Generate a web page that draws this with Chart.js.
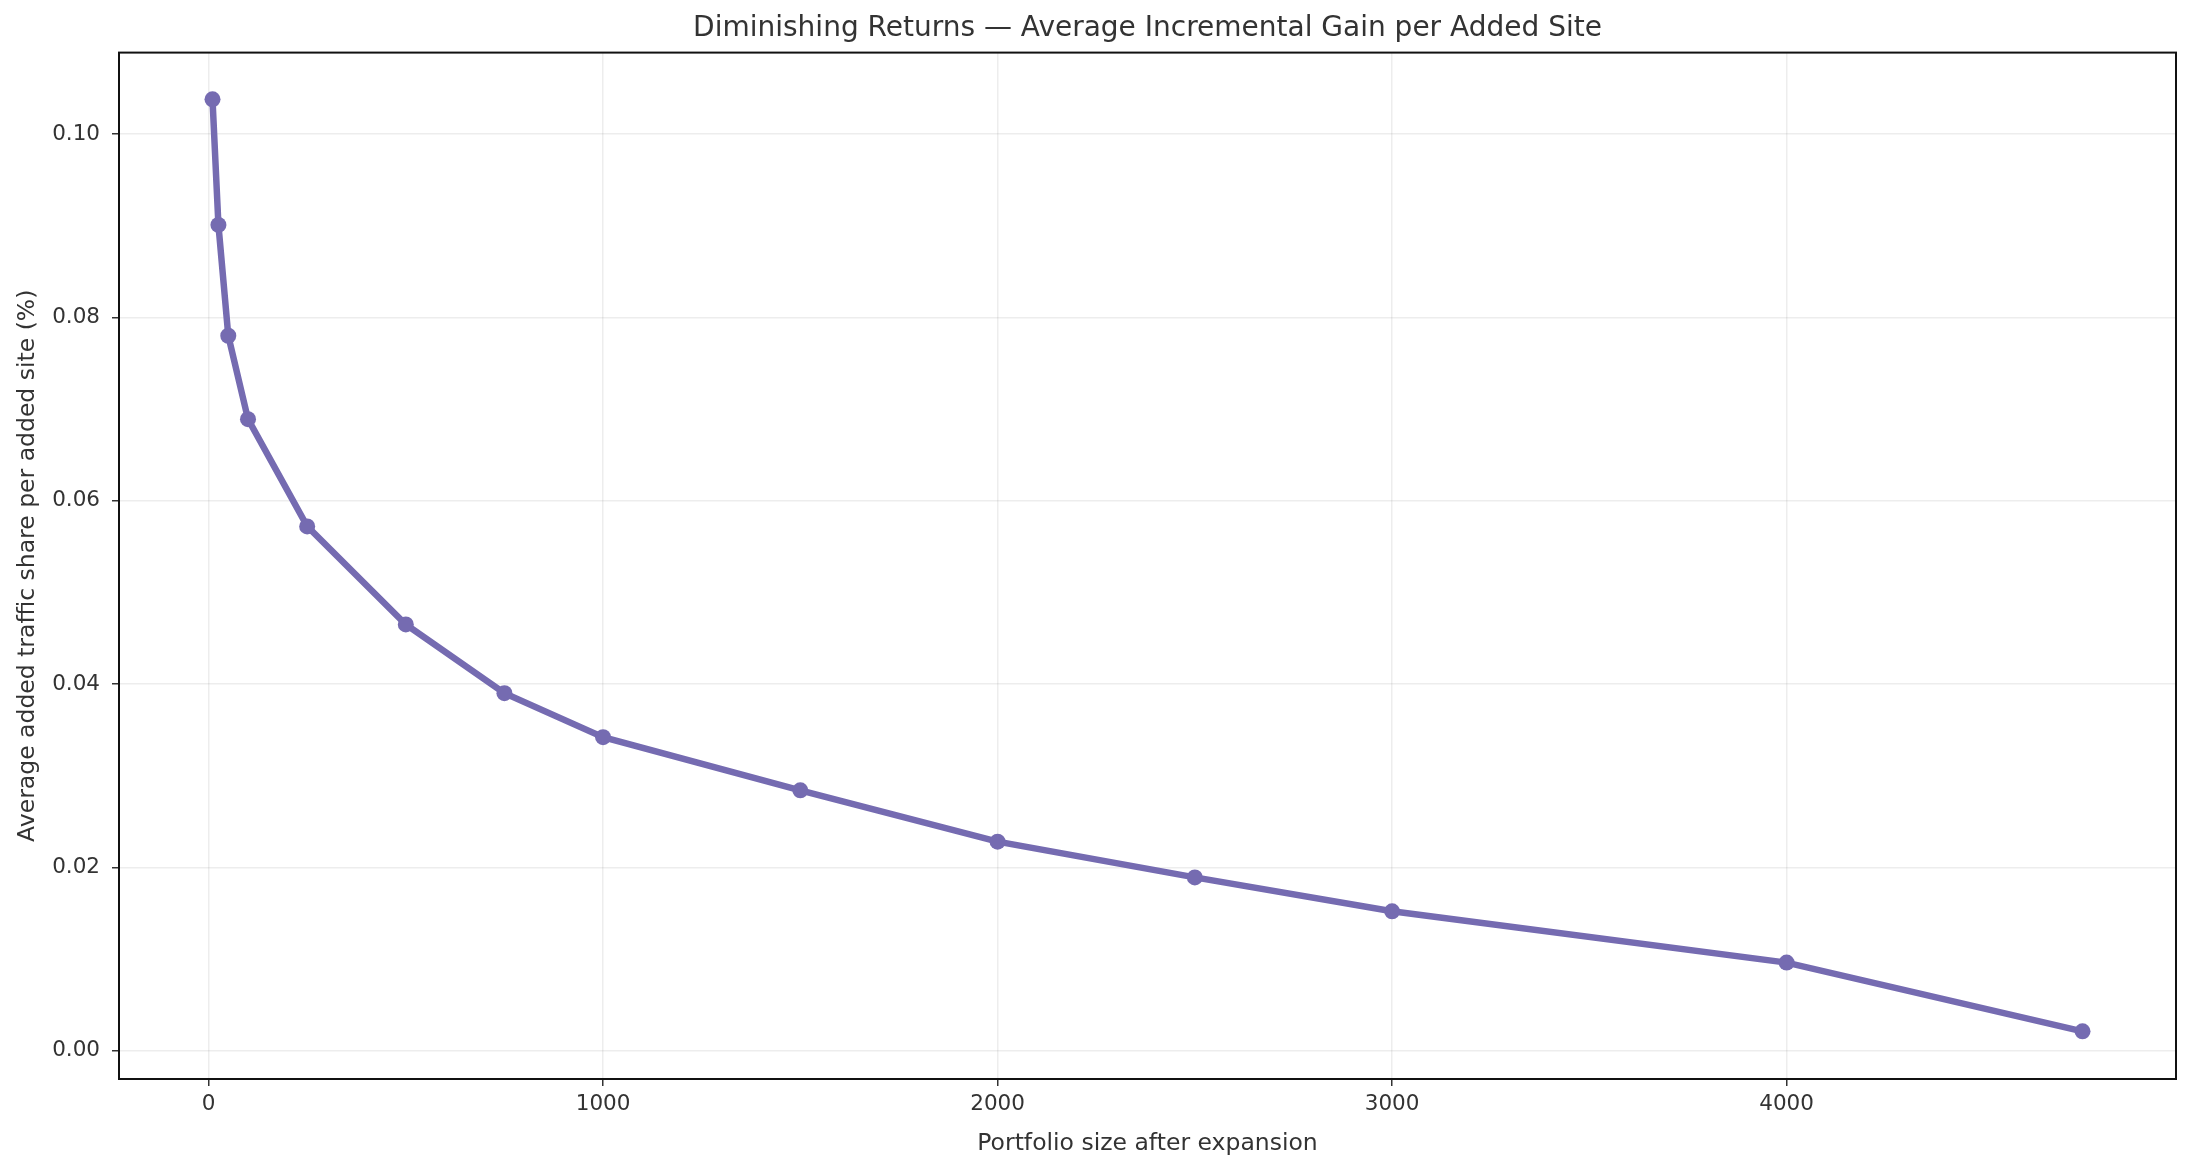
<!DOCTYPE html>
<html>
<head>
<meta charset="utf-8">
<script src="https://cdn.jsdelivr.net/npm/chart.js@4.4.0/dist/chart.umd.min.js"></script>
<style>
  html, body { margin: 0; padding: 0; background: #fff; }
  #wrap { width: 2193px; height: 1171px; }
</style>
</head>
<body>
<div id="wrap"><canvas id="myChart"></canvas></div>
<script>
const portfolioSize = [10, 25, 50, 100, 250, 500, 750, 1000, 1500, 2000, 2500, 3000, 4000, 4750];
const avgGain = [0.1038, 0.0901, 0.0780, 0.0689, 0.0572, 0.0465, 0.0390, 0.0342, 0.0284, 0.0228, 0.0189, 0.0152, 0.0096, 0.0021];
const xTicks = [0, 1000, 2000, 3000, 4000];
const yTicks = [0, 0.02, 0.04, 0.06, 0.08, 0.1];

const ctx = document.getElementById("myChart").getContext("2d");

const points = portfolioSize.map((s, i) => {
  return { x: s, y: avgGain[i] };
});

// matplotlib style box round the plot area
const frame = {
  id: "frame",
  afterLayout(chart) {
    // center the title over the plot area, not the whole canvas
    if (chart.titleBlock) {
      chart.titleBlock.left = chart.chartArea.left;
      chart.titleBlock.right = chart.chartArea.right;
    }
  },
  afterDraw(chart) {
    const { ctx, chartArea: a } = chart;
    ctx.save();
    ctx.strokeStyle = "#111";
    ctx.lineWidth = 2;
    ctx.strokeRect(a.left, a.top, a.right - a.left, a.bottom - a.top);
    ctx.restore();
  },
};

const data = {
  datasets: [
    {
      data: points,
      borderColor: "#756bb1",
      backgroundColor: "#756bb1",
      borderWidth: 6.5,
      pointRadius: 8,
      pointHoverRadius: 8,
      pointBorderWidth: 0,
      tension: 0,
    },
  ],
};

const config = {
  type: "line",
  data: data,
  plugins: [frame],
  options: {
    responsive: true,
    maintainAspectRatio: false,
    animation: false,
    layout: {
      padding: { left: 0, right: 17, top: 0, bottom: 0 },
    },
    plugins: {
      legend: { display: false },
      tooltip: { enabled: false },
      title: {
        display: true,
        text: "Diminishing Returns — Average Incremental Gain per Added Site",
        color: "#333",
        font: { family: "DejaVu Sans", size: 28, weight: "normal" },
        padding: { top: 12, bottom: 7 },
      },
    },
    scales: {
      x: {
        type: "linear",
        min: -227,
        max: 4987,
        afterBuildTicks: (axis) => {
          axis.ticks = xTicks.map((v) => ({ value: v }));
        },
        afterFit: (scale) => {
          scale.height = 92;
        },
        grid: {
          color: "rgba(0,0,0,0.07)",
          lineWidth: 1.5,
          tickColor: "#333",
          tickLength: 7,
          tickWidth: 1.5,
        },
        border: { display: false },
        ticks: {
          color: "#333",
          font: { family: "DejaVu Sans", size: 21.5 },
          padding: 6,
          maxRotation: 0,
          callback: (v) => String(v),
        },
        title: {
          display: true,
          text: "Portfolio size after expansion",
          color: "#333",
          font: { family: "DejaVu Sans", size: 23.5 },
          padding: { top: 6, bottom: 13 },
        },
      },
      y: {
        min: -0.0031,
        max: 0.1089,
        afterBuildTicks: (axis) => {
          axis.ticks = yTicks.map((v) => ({ value: v }));
        },
        afterFit: (scale) => {
          scale.width = 119;
        },
        grid: {
          color: "rgba(0,0,0,0.07)",
          lineWidth: 1.5,
          tickColor: "#333",
          tickLength: 7,
          tickWidth: 1.5,
        },
        border: { display: false },
        ticks: {
          color: "#333",
          font: { family: "DejaVu Sans", size: 21.5 },
          padding: 12,
          callback: (v) => v.toFixed(2),
        },
        title: {
          display: true,
          text: "Average added traffic share per added site (%)",
          color: "#333",
          font: { family: "DejaVu Sans", size: 23.5 },
          padding: { top: 14, bottom: 4 },
        },
      },
    },
  },
};

const myChart = new Chart(ctx, config);
</script>
</body>
</html>
